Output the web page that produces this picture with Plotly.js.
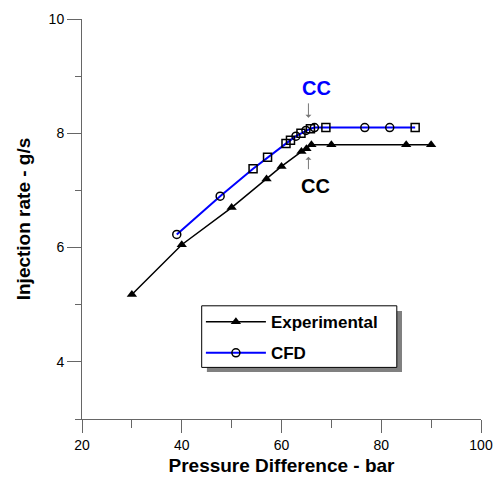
<!DOCTYPE html>
<html>
<head>
<meta charset="utf-8">
<script src="https://cdn.plot.ly/plotly-3.0.1.min.js"></script>
<style>html,body{margin:0;padding:0;background:#fff;}#chart{width:502px;height:480px;}</style>
</head>
<body>
<div id="chart"></div>
<script>
// Experimental data
const expX = [30, 40, 50, 57, 60, 64, 65, 66, 70, 85, 90];
const expY = [5.18, 6.05, 6.7, 7.2, 7.42, 7.68, 7.73, 7.8, 7.8, 7.8, 7.8];
// CFD data
const cfdX = [39, 47.7, 54.3, 57.2, 60.9, 61.8, 62.9, 63.9, 64.9, 65.8, 66.6, 68.9, 76.7, 81.7, 86.8];
const cfdY = [6.23, 6.9, 7.38, 7.58, 7.82, 7.88, 7.95, 8.0, 8.05, 8.08, 8.1, 8.1, 8.1, 8.1, 8.1];
const cfdSymbols = ['circle-open','circle-open','square-open','square-open','square-open','square-open','circle-open','square-open','circle-open','square-open','circle-open','square-open','circle-open','circle-open','square-open'];
// Series names
const seriesNames = ['Experimental', 'CFD'];
// Annotation labels
const ccLabel = 'CC';
const ccBlue = {x: 67.0, y: 8.79, tipX: 65.4, tipY: 8.27};
const ccBlack = {x: 66.9, y: 7.07, tipX: 65.4, tipY: 7.59};

const FONT = 'Arial, "Liberation Sans", sans-serif';
const axisCol = '#666666';

const traces = [
  {
    x: expX, y: expY, name: seriesNames[0], type: 'scatter', mode: 'lines+markers',
    legendgroup: 'a',
    line: {color: '#000000', width: 1.5},
    marker: {symbol: 'triangle-up', size: 9, color: '#000000'}
  },
  {
    x: cfdX, y: cfdY, name: seriesNames[1], type: 'scatter', mode: 'lines+markers',
    legendgroup: 'b',
    line: {color: '#0000ff', width: 2},
    marker: {symbol: cfdSymbols, size: 8, color: '#000000', line: {width: 1.5, color: '#000000'}}
  }
];

const layout = {
  width: 502, height: 480,
  margin: {l: 82, r: 21, t: 19, b: 61},
  paper_bgcolor: '#ffffff', plot_bgcolor: '#ffffff',
  font: {family: FONT, size: 14, color: '#000000'},
  showlegend: true,
  legend: {
    x: 0.298, y: 0.287, xanchor: 'left', yanchor: 'top',
    bgcolor: 'rgba(0,0,0,0)', borderwidth: 0,
    itemwidth: 60, traceorder: 'grouped', tracegroupgap: 6,
    font: {family: FONT, size: 17, color: '#000000', weight: 'bold'}
  },
  xaxis: {
    range: [20, 100], tickmode: 'linear', tick0: 0, dtick: 20,
    showgrid: false, zeroline: false, showline: true, linecolor: axisCol, linewidth: 1,
    ticks: 'outside', ticklen: 13, tickcolor: axisCol, tickwidth: 1,
    minor: {dtick: 10, ticks: 'outside', ticklen: 8, tickcolor: axisCol, showgrid: false},
    tickfont: {family: FONT, size: 14, color: '#000000'},
    title: {text: 'Pressure Difference - bar', font: {family: FONT, size: 19, weight: 'bold', color: '#000000'}, standoff: 6}
  },
  yaxis: {
    range: [3, 10], tickmode: 'linear', tick0: 0, dtick: 2,
    showgrid: false, zeroline: false, showline: true, linecolor: axisCol, linewidth: 1,
    ticks: 'outside', ticklen: 14, tickcolor: axisCol, tickwidth: 1,
    minor: {dtick: 1, ticks: 'outside', ticklen: 6, tickcolor: axisCol, showgrid: false},
    tickfont: {family: FONT, size: 14, color: '#000000'},
    title: {text: 'Injection rate - g/s', font: {family: FONT, size: 19, weight: 'bold', color: '#000000'}, standoff: 12}
  },
  shapes: [
    {type: 'rect', xref: 'paper', yref: 'paper', x0: 0.313, x1: 0.802, y0: 0.1175, y1: 0.27,
     fillcolor: '#808080', line: {width: 0}, layer: 'above'},
    {type: 'rect', xref: 'paper', yref: 'paper', x0: 0.300, x1: 0.789, y0: 0.129, y1: 0.283,
     fillcolor: '#ffffff', line: {width: 1, color: '#000000'}, layer: 'above'}
  ],
  annotations: [
    {x: ccBlue.x, y: ccBlue.y, text: ccLabel, showarrow: false,
     font: {family: FONT, size: 20, weight: 'bold', color: '#0000ff'}},
    {x: ccBlue.tipX, y: ccBlue.tipY, text: '', showarrow: true, ax: 0, ay: -16,
     arrowhead: 1, arrowsize: 1, arrowwidth: 1, arrowcolor: '#777777'},
    {x: ccBlack.x, y: ccBlack.y, text: ccLabel, showarrow: false,
     font: {family: FONT, size: 20, weight: 'bold', color: '#000000'}},
    {x: ccBlack.tipX, y: ccBlack.tipY, text: '', showarrow: true, ax: 0, ay: 14,
     arrowhead: 1, arrowsize: 1, arrowwidth: 1, arrowcolor: '#777777'}
  ]
};

Plotly.newPlot('chart', traces, layout, {displayModeBar: false, staticPlot: true});
</script>
</body>
</html>
